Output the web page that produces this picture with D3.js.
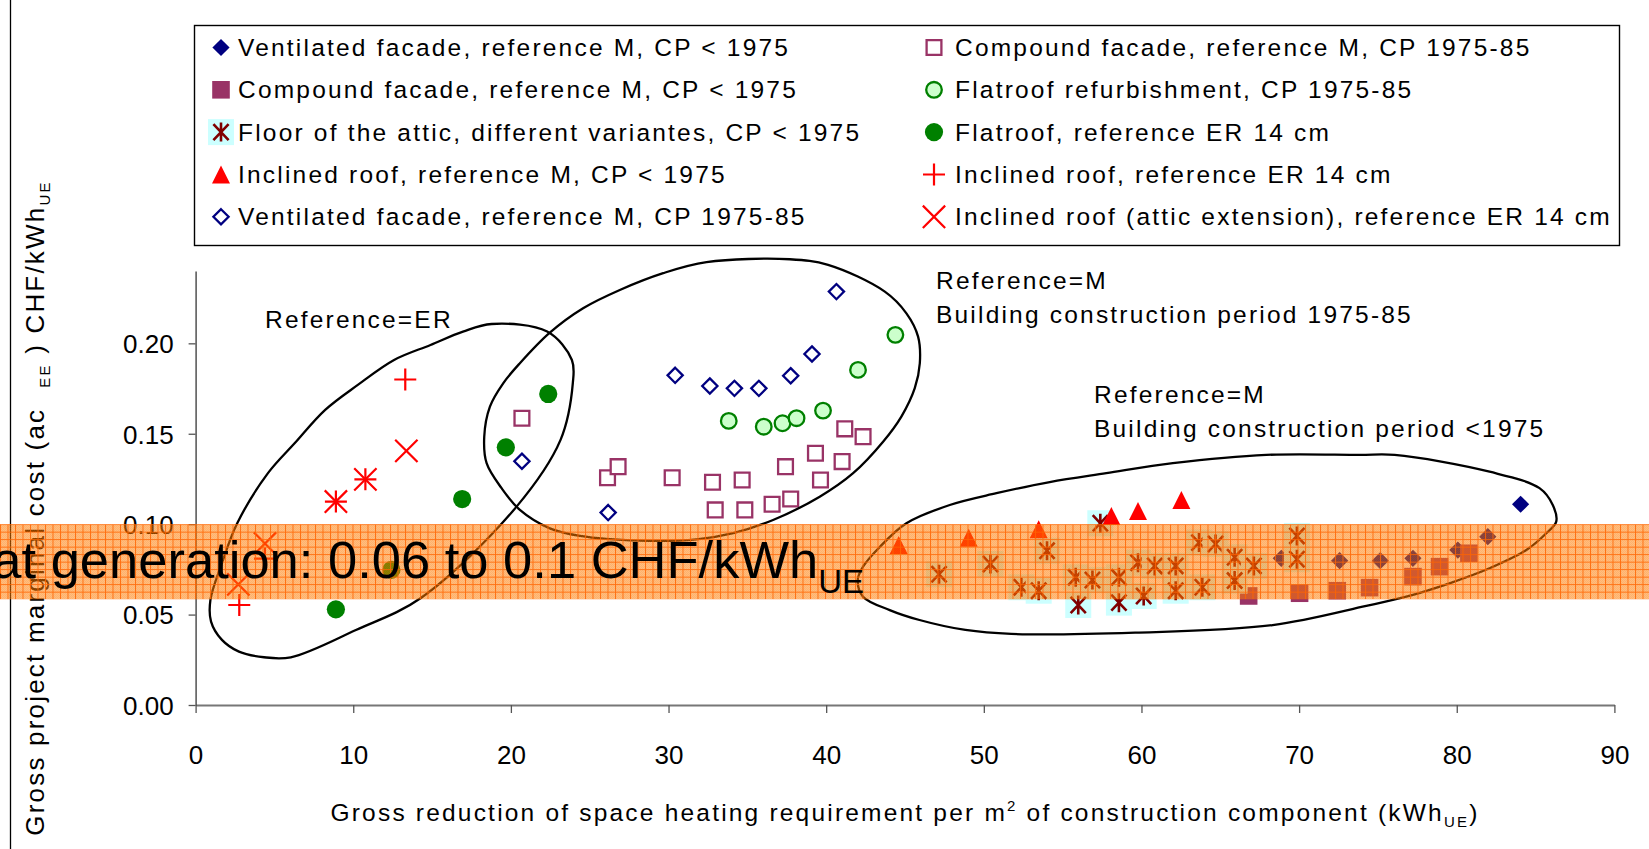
<!DOCTYPE html>
<html><head><meta charset="utf-8">
<script src="https://cdn.jsdelivr.net/npm/d3@7"></script>
<style>
body{margin:0;background:#fff;}
svg{display:block;}
text{font-family:"Liberation Sans",Arial,Helvetica,sans-serif;fill:#000;}
</style>
</head><body>
<svg id="chart" width="1649" height="849"></svg>
<script>
// ---------------- DATA ----------------
const xTicks = [0,10,20,30,40,50,60,70,80,90];
const yTicks = [0,0.05,0.10,0.15,0.20];

const seriesNames = [
  "Ventilated facade, reference M, CP < 1975",
  "Compound facade, reference M, CP < 1975",
  "Floor of the attic, different variantes, CP < 1975",
  "Inclined roof, reference M, CP < 1975",
  "Ventilated facade, reference M, CP 1975-85",
  "Compound facade, reference M, CP 1975-85",
  "Flatroof refurbishment, CP 1975-85",
  "Flatroof, reference ER 14 cm",
  "Inclined roof, reference ER 14 cm",
  "Inclined roof (attic extension), reference ER 14 cm"
];

const ventFacadeM_pre75 = [[68.87,0.0811],[72.57,0.0798],[75.15,0.0798],[77.22,0.0811],[80.07,0.0857],[81.97,0.0931],[84.05,0.111]];
const compFacadeM_pre75 = [[66.8,0.0603],[70.03,0.0618],[72.42,0.0632],[74.47,0.0649],[77.22,0.071],[78.91,0.0765],[80.77,0.0839]];
const atticFloor_pre75 = [[47.16,0.0723],[50.42,0.078],[54.01,0.0853],[52.38,0.0651],[53.48,0.0632],[57.39,0.1005],
  [55.83,0.0706],[56.89,0.0691],[55.99,0.0553],[58.57,0.0706],[58.57,0.0566],[59.78,0.0787],[60.84,0.0769],
  [62.17,0.0769],[60.14,0.0603],[62.17,0.0632],[63.65,0.0898],[64.7,0.089],[63.86,0.0651],[65.91,0.0817],
  [67.13,0.0769],[65.91,0.0688],[69.86,0.0935],[69.86,0.0806]];
const inclRoofM_pre75 = [[44.6,0.0885],[49.04,0.0925],[53.48,0.0972],[58.09,0.1045],[59.78,0.1073],[62.53,0.1134]];
const ventFacadeM_7585 = [[20.7,0.1348],[26.17,0.1064],[30.42,0.1823],[32.62,0.1764],[34.18,0.1751],[35.73,0.1751],[37.75,0.1821],[39.1,0.1941],[40.65,0.2286]];
const compFacadeM_7585 = [[20.7,0.1586],[26.13,0.1257],[26.8,0.1318],[30.23,0.1257],[32.79,0.1232],[32.96,0.1079],[34.67,0.1244],[34.84,0.1079],
  [36.57,0.111],[37.42,0.1318],[37.75,0.1139],[39.32,0.1392],[39.64,0.1244],[41.01,0.1346],[41.18,0.1527],[42.34,0.1484]];
const flatroofRefurb_7585 = [[33.82,0.1571],[36.04,0.1539],[37.23,0.1558],[38.12,0.1586],[39.8,0.1628],[42.02,0.1853],[44.39,0.2047]];
const flatroofER14 = [[8.9,0.0529],[12.42,0.0747],[16.91,0.1139],[19.68,0.1425],[22.37,0.172]];
const inclRoofER14 = [[2.77,0.0553],[4.4,0.081],[8.9,0.1125],[10.77,0.1248],[13.3,0.180]];
const inclRoofAtticER14 = [[2.71,0.0667],[4.4,0.0893],[8.9,0.1125],[10.77,0.1248],[13.37,0.1405]];

// Ellipse annotations (data units)
const ellipseER = [[18.78,0.2107],[22.30,0.2065],[23.87,0.1908],[23.93,0.1781],[23.15,0.1466],[20.36,0.1097],[14.29,0.0592],
  [10.17,0.0415],[6.04,0.0264],[4.34,0.0264],[2.75,0.0295],[1.67,0.036],[0.98,0.0461],[0.94,0.0581],[1.67,0.0784],
  [2.64,0.1005],[4.59,0.1282],[6.28,0.1447],[8.22,0.1632],[10.29,0.177],[12.59,0.1908],[14.9,0.1991],[16.96,0.2065]];
const ellipseM7585 = [[32.41,0.2449],[37.69,0.2465],[40.12,0.2434],[43.72,0.2286],[45.09,0.2166],[45.83,0.2037],[45.94,0.189],
  [45.62,0.1752],[44.77,0.1595],[43.61,0.1456],[41.71,0.1282],[39.59,0.1152],[36.63,0.1023],[34.1,0.095],[31.78,0.0916],
  [28.18,0.0909],[24.38,0.0935],[22.47,0.0977],[20.57,0.1079],[19.41,0.1199],[18.46,0.1337],[18.31,0.1484],[18.67,0.165],
  [19.51,0.1779],[20.57,0.189],[22.47,0.2059],[24.58,0.2194],[26.91,0.2295],[29.66,0.2388]];
const ellipseMpre75 = [[67.92,0.1383],[73.84,0.1383],[76.06,0.1383],[82.08,0.129],[85.25,0.1199],[86.09,0.1106],[86.31,0.1014],
  [85.68,0.095],[84.41,0.0857],[82.08,0.0756],[79.54,0.0673],[76.8,0.0599],[74.26,0.0548],[68.32,0.0442],[59.6,0.04],
  [51.74,0.0393],[48.83,0.0415],[45.92,0.047],[44.03,0.0525],[42.34,0.0599],[42.0,0.0691],[42.34,0.0765],[43.4,0.0874],
  [45.09,0.1005],[47.84,0.1106],[50.8,0.1171],[54.18,0.1233],[57.77,0.1282],[61.99,0.1337]];

const heatBand = [0.0585, 0.10];

// ---------------- LAYOUT ----------------
const W = 1649, H = 849;
const svg = d3.select("#chart");
const x = d3.scaleLinear().domain([0, 90]).range([195.6, 1614.4]);
const y = d3.scaleLinear().domain([0, 0.24]).range([705, 271]);

const FS = 24.5, LS = 2.2;

// pattern for band
const defs = svg.append("defs");
const bandTop = y(heatBand[1]);
const pat = defs.append("pattern").attr("id","grid").attr("patternUnits","userSpaceOnUse")
  .attr("width",7.5).attr("height",7.5).attr("x",0).attr("y",bandTop);
pat.append("rect").attr("width",7.5).attr("height",7.5).attr("fill","rgb(255,125,0)").attr("fill-opacity",0.5);
pat.append("path").attr("d","M0 0.5H7.5M0.5 0V7.5").attr("stroke","#ff6400").attr("stroke-opacity",0.85).attr("stroke-width",1).attr("fill","none");
const pat2 = defs.append("pattern").attr("id","dith").attr("patternUnits","userSpaceOnUse")
  .attr("width",2).attr("height",2);
pat2.append("rect").attr("width",1).attr("height",1).attr("fill","rgb(255,100,0)").attr("fill-opacity",0.15);
pat2.append("rect").attr("x",1).attr("y",1).attr("width",1).attr("height",1).attr("fill","rgb(255,100,0)").attr("fill-opacity",0.15);

// left border line
svg.append("line").attr("x1",10.5).attr("x2",10.5).attr("y1",0).attr("y2",H).attr("stroke","#000").attr("stroke-width",1.3);

// ---------------- AXES ----------------
const xAxis = d3.axisBottom(x).tickValues(xTicks).tickFormat(d3.format("d")).tickSizeInner(8).tickSizeOuter(0).tickPadding(33);
const yAxis = d3.axisLeft(y).tickValues(yTicks).tickFormat(d3.format(".2f")).tickSizeInner(7).tickSizeOuter(0).tickPadding(15);

const gx = svg.append("g").attr("transform",`translate(0,${y(0)})`).call(xAxis);
const gy = svg.append("g").attr("transform",`translate(${x(0)},0)`).call(yAxis);
[gx,gy].forEach(g=>{
  g.selectAll("text").attr("font-size",26).style("font-family",'"Liberation Sans",Arial,sans-serif').attr("fill","#000");
  g.selectAll("line").attr("stroke","#555").attr("stroke-width",1.3);
});
gx.select(".domain").attr("stroke","#777").attr("stroke-width",2.2);
gy.select(".domain").attr("stroke","#444").attr("stroke-width",1.4);
gy.selectAll("text").attr("dy","0.36em");

// axis titles
const xt = svg.append("text").attr("x",(x(0)+x(90))/2).attr("y",821).attr("text-anchor","middle")
  .attr("font-size",FS).attr("letter-spacing",LS);
xt.append("tspan").text("Gross reduction of space heating requirement per m");
xt.append("tspan").attr("font-size",15).attr("dy",-10).text("2");
xt.append("tspan").attr("dy",10).text(" of construction component (kWh");
xt.append("tspan").attr("font-size",15).attr("dy",6).text("UE");
xt.append("tspan").attr("dy",-6).text(")");

const yt = svg.append("text").attr("transform","translate(44,508) rotate(-90)").attr("text-anchor","middle")
  .attr("font-size",26).attr("letter-spacing",2.2);
yt.append("tspan").text("Gross project marginal cost (ac");
yt.append("tspan").attr("font-size",15).attr("dx",20).attr("dy",6).text("EE");
yt.append("tspan").attr("dy",-6).text(" ) CHF/kWh");
yt.append("tspan").attr("font-size",15).attr("dy",6).text("UE");

// ---------------- MARKERS ----------------
const symDiamond = {draw(c,r){c.moveTo(0,-r);c.lineTo(r,0);c.lineTo(0,r);c.lineTo(-r,0);c.closePath();}};
const symSquare = {draw(c,r){c.rect(-r,-r,2*r,2*r);}};
const symTriangle = {draw(c,r){c.moveTo(0,-r);c.lineTo(r,r);c.lineTo(-r,r);c.closePath();}};
const symPlus = {draw(c,r){c.moveTo(-r,0);c.lineTo(r,0);c.moveTo(0,-r);c.lineTo(0,r);}};
const symCross = {draw(c,r){const a=r*0.72;c.moveTo(-a,-a);c.lineTo(a,a);c.moveTo(a,-a);c.lineTo(-a,a);}};
const symStar = {draw(c,r){c.moveTo(0,-r);c.lineTo(0,r);c.moveTo(-r*0.8,-r*0.85);c.lineTo(r*0.8,r*0.85);c.moveTo(r*0.8,-r*0.85);c.lineTo(-r*0.8,r*0.85);}};
const sym = (t,s)=>d3.symbol().type(t).size(s)();

const markerStyles = [
  g=>g.append("path").attr("d",sym(symDiamond,8.6)).attr("fill","#000080"),
  g=>g.append("path").attr("d",sym(symSquare,8.8)).attr("fill","#993366"),
  g=>{g.append("rect").attr("x",-13).attr("y",-13).attr("width",26).attr("height",26).attr("fill","#ccffff");
      g.append("path").attr("d",sym(symStar,9.5)).attr("stroke","#800000").attr("stroke-width",2.6).attr("fill","none");},
  g=>g.append("path").attr("d",sym(symTriangle,9)).attr("fill","#ff0000"),
  g=>g.append("path").attr("d",sym(symDiamond,7.6)).attr("fill","#fff").attr("stroke","#000080").attr("stroke-width",2.3),
  g=>g.append("path").attr("d",sym(symSquare,7.4)).attr("fill","#fff").attr("stroke","#993366").attr("stroke-width",2.3),
  g=>g.append("path").attr("d",d3.symbol().type(d3.symbolCircle).size(Math.PI*7.8*7.8)()).attr("fill","#ccffcc").attr("stroke","#008000").attr("stroke-width",2.3),
  g=>g.append("path").attr("d",d3.symbol().type(d3.symbolCircle).size(Math.PI*9.1*9.1)()).attr("fill","#008000"),
  g=>g.append("path").attr("d",sym(symPlus,11)).attr("stroke","#ff0000").attr("stroke-width",2.2).attr("fill","none"),
  g=>g.append("path").attr("d",sym(symCross,15.5)).attr("stroke","#ff0000").attr("stroke-width",2.2).attr("fill","none")
];
const seriesData = [ventFacadeM_pre75, compFacadeM_pre75, atticFloor_pre75, inclRoofM_pre75, ventFacadeM_7585,
  compFacadeM_7585, flatroofRefurb_7585, flatroofER14, inclRoofER14, inclRoofAtticER14];

// ---------------- LEGEND ----------------
const lg = svg.append("g");
lg.append("rect").attr("x",194.5).attr("y",25.5).attr("width",1425).attr("height",220).attr("fill","#fff").attr("stroke","#000").attr("stroke-width",1.4);
const rowBase = [56, 98.3, 140.6, 183, 225.3];
seriesNames.forEach((name,i)=>{
  const col = i<5 ? 0 : 1, row = i%5;
  const mx = col===0 ? 221 : 934, tx = col===0 ? 238 : 955;
  const mg = lg.append("g").attr("transform",`translate(${mx},${rowBase[row]-8.5})`);
  markerStyles[i](mg);
  lg.append("text").attr("x",tx).attr("y",rowBase[row]).attr("font-size",FS).attr("letter-spacing",LS).text(name);
});

// ---------------- POINTS ----------------
const plot = svg.append("g");
seriesData.forEach((arr,i)=>{
  plot.append("g").selectAll("g").data(arr).join("g")
    .attr("transform",d=>`translate(${x(d[0])},${y(d[1])})`)
    .each(function(){ markerStyles[i](d3.select(this)); });
});

// ---------------- ELLIPSES ----------------
const outline = d3.line().x(d=>x(d[0])).y(d=>y(d[1])).curve(d3.curveCatmullRomClosed.alpha(0.5));
[ellipseER, ellipseM7585, ellipseMpre75].forEach(e=>{
  svg.append("path").attr("d",outline(e)).attr("fill","none").attr("stroke","#000").attr("stroke-width",2.3);
});

// annotations
const ann = (tx,ty,s)=>svg.append("text").attr("x",tx).attr("y",ty).attr("font-size",FS).attr("letter-spacing",LS).text(s);
ann(265,328,"Reference=ER");
ann(936,289,"Reference=M");
ann(936,323,"Building construction period 1975-85");
ann(1094,403,"Reference=M");
ann(1094,437,"Building construction period <1975");

// ---------------- BAND ----------------
svg.append("rect").attr("x",0).attr("width",W).attr("y",y(heatBand[1])).attr("height",y(heatBand[0])-y(heatBand[1])).attr("fill","url(#grid)");
svg.append("rect").attr("x",0).attr("width",W).attr("y",y(heatBand[1])).attr("height",y(heatBand[0])-y(heatBand[1])).attr("fill","url(#dith)");
const bt = svg.append("text").attr("x",864).attr("y",578).attr("text-anchor","end").attr("font-size",52.5);
bt.append("tspan").text("heat generation: 0.06 to 0.1 CHF/kWh");
bt.append("tspan").attr("font-size",33).attr("dy",15).text("UE");
</script>
</body></html>
